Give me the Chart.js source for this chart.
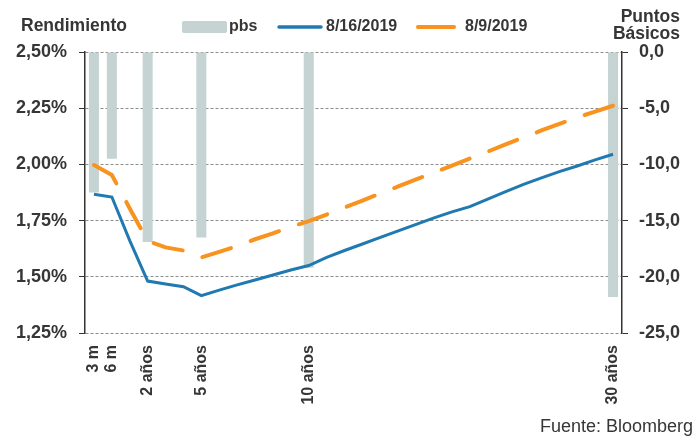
<!DOCTYPE html>
<html>
<head>
<meta charset="utf-8">
<script src="https://cdn.jsdelivr.net/npm/chart.js@4.4.1/dist/chart.umd.min.js"></script>
<style>
  html, body { margin: 0; padding: 0; background: #fff; }
</style>
</head>
<body>
<canvas id="curva" width="699" height="441"></canvas>
<script>
// plazos (solo algunos se rotulan en el eje)
const plazos = ['3 m', '6 m', '', '2 años', '', '', '5 años', '', '', '', '', '',
  '10 años', '', '', '', '', '', '', '', '', '', '', '', '', '', '', '', '', '30 años'];

// rendimiento 8/16/2019 (%)
const rend0816 = [1.867, 1.855, 1.661, 1.481, 1.468, 1.456, 1.416, 1.441, 1.464, 1.486,
  1.508, 1.530, 1.550, 1.586, 1.617, 1.646, 1.675, 1.704, 1.733, 1.762,
  1.789, 1.812, 1.846, 1.879, 1.911, 1.940, 1.968, 1.993, 2.020, 2.045];

// rendimiento 8/9/2019 (%)
const rend0809 = [1.997, 1.953, 1.804, 1.659, 1.631, 1.617, 1.586, 1.611, 1.637, 1.667,
  1.693, 1.722, 1.748, 1.777, 1.808, 1.839, 1.871, 1.902, 1.933, 1.964,
  1.995, 2.026, 2.057, 2.089, 2.120, 2.151, 2.180, 2.209, 2.235, 2.261];

// cambio en puntos basicos
const pbs = [-12.5, -9.5, null, -16.9, null, null, -16.5, null, null, null, null, null,
  -19.2, null, null, null, null, null, null, null, null, null, null, null, null, null, null, null, null, -21.8];

const colorBarra = '#c5d3d3';
const colorAzul = '#2079b0';
const colorNaranja = '#f7931e';
const colorTexto = '#363636';
const fuente = '"Liberation Sans", Arial, sans-serif';

function coma(v, dec) {
  return v.toFixed(dec).replace('.', ',');
}

// titulos, leyenda y fuente
const decoracion = {
  id: 'decoracion',
  afterDraw(chart) {
    const ctx = chart.ctx;
    const ds = chart.data.datasets;
    ctx.save();
    ctx.fillStyle = colorTexto;
    ctx.font = 'bold 17.5px ' + fuente;
    ctx.textBaseline = 'alphabetic';
    ctx.textAlign = 'left';
    ctx.fillText('Rendimiento', 21, 31);
    ctx.textAlign = 'right';
    ctx.fillText('Puntos', 680, 22);
    ctx.fillText('Básicos', 680, 39);

    // leyenda
    ctx.font = 'bold 16px ' + fuente;
    ctx.textAlign = 'left';
    ctx.textBaseline = 'middle';
    ctx.fillStyle = colorBarra;
    ctx.beginPath();
    ctx.roundRect(182, 21, 45, 12, 2);
    ctx.fill();
    ctx.fillStyle = colorTexto;
    ctx.fillText(ds[2].label, 229, 27);

    ctx.lineCap = 'round';
    ctx.strokeStyle = colorAzul;
    ctx.lineWidth = 3.5;
    ctx.beginPath();
    ctx.moveTo(279, 27);
    ctx.lineTo(321, 27);
    ctx.stroke();
    ctx.fillText(ds[0].label, 326, 27);

    ctx.strokeStyle = colorNaranja;
    ctx.lineWidth = 4;
    ctx.beginPath();
    ctx.moveTo(418, 27);
    ctx.lineTo(454, 27);
    ctx.stroke();
    ctx.fillText(ds[1].label, 465, 27);

    ctx.font = '18px ' + fuente;
    ctx.textAlign = 'right';
    ctx.textBaseline = 'alphabetic';
    ctx.fillText('Fuente: Bloomberg', 693, 432);
    ctx.restore();
  }
};

const ctx = document.getElementById('curva');
new Chart(ctx, {
  data: {
    labels: plazos,
    datasets: [{
      type: 'line',
      label: '8/16/2019',
      data: rend0816,
      yAxisID: 'y',
      borderColor: colorAzul,
      borderWidth: 3,
      pointRadius: 0,
      tension: 0,
      order: 1
    }, {
      type: 'line',
      label: '8/9/2019',
      data: rend0809,
      yAxisID: 'y',
      borderColor: colorNaranja,
      borderWidth: 4,
      borderDash: [30, 21],
      borderCapStyle: 'round',
      pointRadius: 0,
      tension: 0,
      order: 2
    }, {
      type: 'bar',
      label: 'pbs',
      data: pbs,
      yAxisID: 'y1',
      backgroundColor: colorBarra,
      categoryPercentage: 1,
      barPercentage: 0.56,
      order: 3
    }]
  },
  options: {
    responsive: false,
    animation: false,
    layout: { padding: { top: 52, left: 0, right: 0, bottom: 0 } },
    plugins: {
      legend: { display: false },
      tooltip: { enabled: false }
    },
    scales: {
      x: {
        type: 'category',
        grid: { display: false, drawTicks: false },
        border: { display: false },
        ticks: {
          autoSkip: false,
          minRotation: 90,
          maxRotation: 90,
          padding: 12,
          color: colorTexto,
          font: { family: fuente, size: 16, weight: 'bold' }
        },
        afterFit(scale) { scale.height = 108; }
      },
      y: {
        position: 'left',
        min: 1.25,
        max: 2.5,
        ticks: {
          stepSize: 0.25,
          padding: 12,
          color: colorTexto,
          font: { family: fuente, size: 18, weight: 'bold' },
          callback: (v) => coma(v, 2) + '%'
        },
        grid: { color: '#8c8c8c', lineWidth: 1, tickColor: '#333', tickLength: 6 },
        border: { display: true, color: '#333', width: 1.5, dash: [3, 2] },
        afterFit(scale) { scale.width = 85; }
      },
      y1: {
        position: 'right',
        min: -25,
        max: 0,
        ticks: {
          stepSize: 5,
          padding: 11,
          color: colorTexto,
          font: { family: fuente, size: 18, weight: 'bold' },
          callback: (v) => coma(v, 1)
        },
        grid: { drawOnChartArea: false, tickColor: '#333', tickLength: 6 },
        border: { display: true, color: '#333', width: 1.5 },
        afterFit(scale) { scale.width = 77; }
      }
    }
  },
  plugins: [decoracion]
});
</script>
</body>
</html>
